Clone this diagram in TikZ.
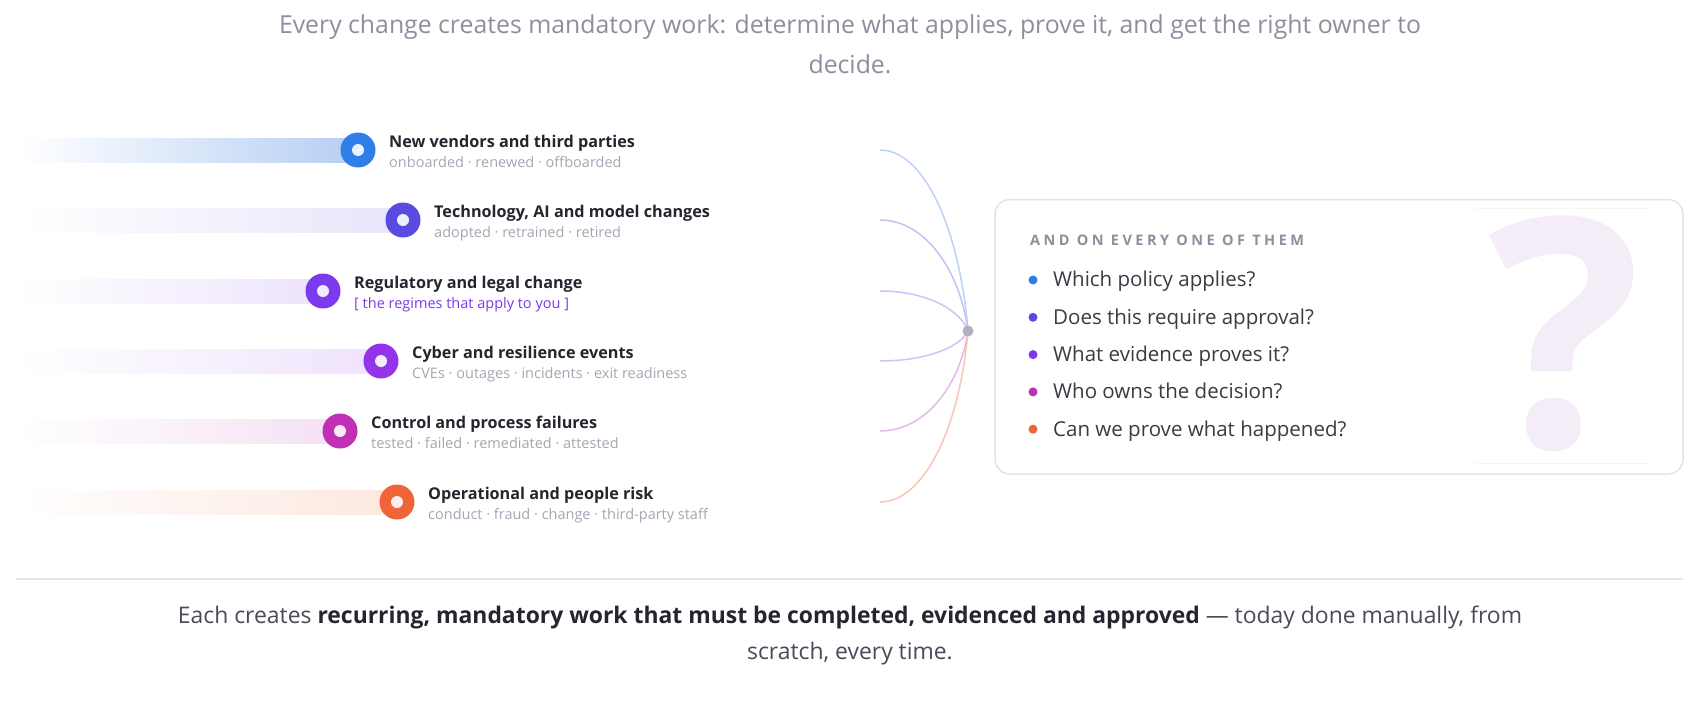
\documentclass[tikz,border=0pt]{standalone}
\usepackage{fontspec}
\setmainfont{Open Sans}
\usetikzlibrary{positioning,calc}
\definecolor{c1}{HTML}{2F7FE8}
\definecolor{c2}{HTML}{5A4BE0}
\definecolor{c3}{HTML}{7B3AEC}
\definecolor{c4}{HTML}{9334EA}
\definecolor{c5}{HTML}{C12FB5}
\definecolor{c6}{HTML}{F0643A}
\definecolor{bar1}{HTML}{B6CEF4}
\definecolor{bar2}{HTML}{E8E5FA}
\definecolor{bar3}{HTML}{EDE3FB}
\definecolor{bar4}{HTML}{EFE3FC}
\definecolor{bar5}{HTML}{F5E1F3}
\definecolor{bar6}{HTML}{FCE7DF}
\definecolor{ln1}{HTML}{BCD3F8}
\definecolor{ln2}{HTML}{C7C0F3}
\definecolor{ln3}{HTML}{D5C0F9}
\definecolor{ln4}{HTML}{D9BEF7}
\definecolor{ln5}{HTML}{E5B8EC}
\definecolor{ln6}{HTML}{F9C6B5}
\definecolor{ink}{HTML}{25252F}
\definecolor{soft}{HTML}{A6A6B4}
\definecolor{mute}{HTML}{8E8E9E}
\definecolor{body}{HTML}{4A4A5A}
\definecolor{edge}{HTML}{E3E3EA}
\definecolor{hubgray}{HTML}{B0B0BE}
\definecolor{qpink}{HTML}{F4ECF7}

\begin{document}
\begin{tikzpicture}[x=1pt,y=-1pt,
  ring/.style={circle,fill=#1,minimum size=35pt,inner sep=0pt},
  pip/.style={circle,fill=#1,minimum size=9pt,inner sep=0pt},
  head/.style={anchor=base west,inner sep=0pt,text=ink,font=\bfseries\fontsize{16.2}{19}\selectfont},
  tag/.style={anchor=base west,inner sep=0pt,font=\fontsize{14.5}{17}\selectfont},
  link/.style={line width=1.5pt},
  card/.style={draw=edge,line width=1.5pt,fill=white,rounded corners=15pt,inner sep=0pt},
  ask/.style={anchor=base west,inner sep=0pt,text=mute,font=\bfseries\fontsize{14.5}{17}\selectfont\addfontfeature{LetterSpace=24}},
  qtext/.style={anchor=base west,inner sep=0pt,text=ink!90,font=\fontsize{20.5}{24}\selectfont},
  lead/.style={anchor=base,inner sep=0pt,text=mute,font=\fontsize{24.8}{30}\selectfont},
  foot/.style={anchor=base,inner sep=0pt,text=body,font=\fontsize{22.9}{28}\selectfont}]
\fill[white] (0,0) rectangle (1700,712);
\useasboundingbox (0,0) rectangle (1700,712);

\node[lead] (lead1) at (850,33) {Every change creates mandatory work: determine what applies, prove it, and get the right owner to};
\node[lead] (lead2) at (850,73) {decide.};

\coordinate (hub) at (968,331);
\foreach \i/\px/\py/\sc/\ttl/\sub in {
  1/358/150/soft/{New vendors and third parties}/{onboarded · renewed · offboarded},
  2/403/220/soft/{Technology, AI and model changes}/{adopted · retrained · retired},
  3/323/291/c3/{Regulatory and legal change}/{[ the regimes that apply to you ]},
  4/381/361/soft/{Cyber and resilience events}/{CVEs · outages · incidents · exit readiness},
  5/340/431/soft/{Control and process failures}/{tested · failed · remediated · attested},
  6/397/502/soft/{Operational and people risk}/{conduct · fraud · change · third-party staff}}{
  \fill[left color=white,right color=bar\i] (20,\py-12) rectangle (\px,\py+12);
  \node[ring=c\i] (dot\i) at (\px,\py) {};
  \fill[white!90!c\i] (dot\i) circle (6pt);
  \node[head] (head\i) at ($(dot\i)+(31,-3)$) {\ttl};
  \node[tag,text=\sc] (sub\i) at ($(dot\i)+(31,17)$) {\sub};
  \coordinate (s\i) at (880,\py);
  \pgfmathsetmacro\bend{0.55*(\py-331)}
  \draw[link,ln\i] (s\i) .. controls +(45,0) and +(-8,\bend) .. (hub);
}
\fill[hubgray] (hub) circle (5.5pt);

\node[card,minimum width=688pt,minimum height=274.5pt] (card) at (1339,336.75) {};
\draw[line width=1pt,color=black!4] (1476,208) -- (1648,208);
\draw[line width=1pt,color=black!4] (1476,463) -- (1648,463);
\node[text=qpink,inner sep=0pt,font=\bfseries\fontsize{320}{320}\selectfont] (qmark) at (1565,334) {?};
\node[ask] (ask) at (1030,245.5) {AND ON EVERY ONE OF THEM};
\foreach \j/\qc/\qq in {1/c1/{Which policy applies?},2/c2/{Does this require approval?},
  3/c3/{What evidence proves it?},4/c5/{Who owns the decision?},5/c6/{Can we prove what happened?}}{
  \node[pip=\qc] (b\j) at (1033,280+37.3*\j-37.3) {};
  \node[qtext] (q\j) at ($(b\j)+(20,6.9)$) {\qq};
}

\draw[edge,line width=1.5pt] (16,579) -- (1683,579);
\node[foot] (foot1) at (850,623.3) {Each creates \textcolor{ink}{\bfseries recurring, mandatory work that must be completed, evidenced and approved} — today done manually, from};
\node[foot] (foot2) at (850,659.3) {scratch, every time.};
\end{tikzpicture}
\end{document}
